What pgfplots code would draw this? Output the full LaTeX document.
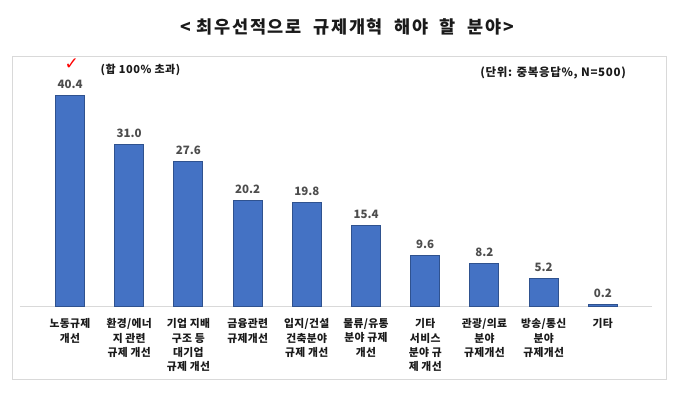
\documentclass[border=0pt]{standalone}
\usepackage{fontspec}
\setmainfont{Noto Sans CJK KR}
\newfontfamily\symfont{DejaVu Sans}
\usepackage{pgfplots}
\pgfplotsset{compat=1.18}
\definecolor{barblue}{HTML}{4472C4}
\definecolor{bardark}{HTML}{2F528F}
\definecolor{framegray}{HTML}{D9D9D9}
\definecolor{txt}{HTML}{1A1A1A}
\definecolor{valtxt}{HTML}{4D4D4D}
\begin{document}
\begin{tikzpicture}[x=1pt,y=1pt]
\path[use as bounding box] (0,0) rectangle (679,400);
\draw[framegray, line width=0.8pt] (12,21) rectangle (666,344);
\node[font=\fontsize{17.5}{20}\selectfont\bfseries\addfontfeature{LetterSpace=10}, text=txt] at (347,373) {<\ 최우선적으로\ \ 규제개혁\ \ 해야\ \ 할\ \ 분야>};
\begin{axis}[
  at={(20pt,94pt)}, anchor=south west,
  x=59.2pt, y=5.22pt,
  xmin=-0.845, xmax=9.83, ymin=0, ymax=47,
  clip=false,
  axis y line=none,
  axis x line*=bottom,
  x axis line style={framegray, line width=1pt, -},
  major tick length=0pt,
  ytick=\empty,
  xtick={0,...,9},
  xticklabels={{노동규제\\개선},{환경/에너\\지 관련\\규제 개선},{기업 지배\\구조 등\\대기업\\규제 개선},{금융관련\\규제개선},{입지/건설\\건축분야\\규제 개선},{물류/유통\\분야 규제\\개선},{기타\\서비스\\분야 규\\제 개선},{관광/의료\\분야\\규제개선},{방송/통신\\분야\\규제개선},{기타}},
  xticklabel style={align=center, anchor=north, yshift=-9pt, text=txt, font=\fontsize{10.8}{14.4}\selectfont\bfseries\addfontfeature{LetterSpace=3}},
]
\addplot[ybar, bar width=29pt, fill=barblue, draw=bardark, line width=1pt,
  nodes near coords,
  every node near coord/.append style={font=\fontsize{11.5}{13}\selectfont\bfseries, text=valtxt, yshift=3pt},
  point meta=explicit symbolic]
coordinates {
 (0,40.4) [40.4]
 (1,31.0) [31.0]
 (2,27.6) [27.6]
 (3,20.2) [20.2]
 (4,19.8) [19.8]
 (5,15.4) [15.4]
 (6,9.6) [9.6]
 (7,8.2) [8.2]
 (8,5.2) [5.2]
 (9,0.2) [0.2]
};
\node[text=red, font=\symfont\fontsize{17}{17}\selectfont\bfseries] at (axis cs:0.03,46.3) {✓};
\node[text=txt, font=\fontsize{11}{12}\selectfont\bfseries\addfontfeature{LetterSpace=5}] at (axis cs:1.19,45.2) {(합 100\% 초과)};
\node[text=txt, font=\fontsize{11.5}{12}\selectfont\bfseries\addfontfeature{LetterSpace=6}] at (axis cs:8.16,44.6) {(단위: 중복응답\%, N=500)};
\end{axis}
\end{tikzpicture}
\end{document}
